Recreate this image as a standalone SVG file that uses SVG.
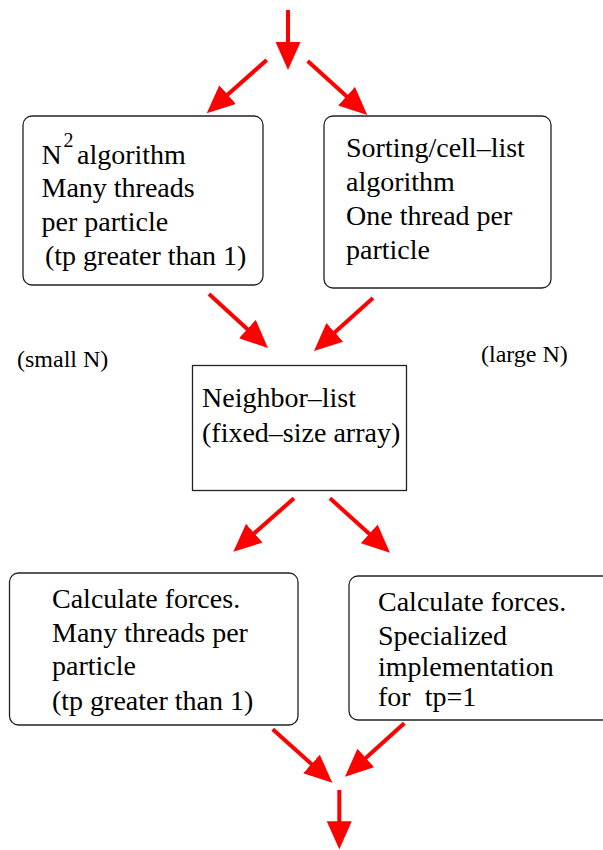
<svg xmlns="http://www.w3.org/2000/svg" width="603" height="850" viewBox="0 0 603 850">
<style>
.box{fill:#fff;stroke:#222;stroke-width:1.3}
.t{font-family:"Liberation Serif","Times New Roman",serif;font-size:28px;fill:#000;white-space:pre}
.s{font-family:"Liberation Serif","Times New Roman",serif;font-size:24px;fill:#000}
.sup{font-family:"Liberation Serif","Times New Roman",serif;font-size:20px;fill:#000}
.arr{stroke:#ff0000;stroke-width:4;fill:none;marker-end:url(#ah)}
</style>
<defs>
<marker id="ah" markerUnits="userSpaceOnUse" viewBox="0 0 28 25" markerWidth="28" markerHeight="25" refX="16" refY="12.5" orient="auto">
<path d="M0,0 L28,12.5 L0,25 Z" fill="#ff0000"/>
</marker>
</defs>
<rect width="603" height="850" fill="#fff"/>
<g id="connectors">
<path class="arr" d="M288,10 L288,58"/>
<path class="arr" d="M266.7,60 L215.7,105.3"/>
<path class="arr" d="M307.7,61 L358.4,106.9"/>
<path class="arr" d="M209,294 L259.1,339.9"/>
<path class="arr" d="M373,298 L322.9,343"/>
<path class="arr" d="M294,498.3 L242.3,543.8"/>
<path class="arr" d="M330,498.3 L381.1,544.6"/>
<path class="arr" d="M272.7,729.3 L323.4,774.7"/>
<path class="arr" d="M404.3,723.3 L353.9,768.7"/>
<path class="arr" d="M339.3,790 L339.3,837.3"/>
</g>
<g id="n2">
<rect class="box" x="23" y="116" width="240" height="169" rx="9"/>
<text class="t" x="41.5" y="164">N</text>
<text class="sup" x="63.5" y="147">2</text>
<text class="t" x="77" y="164">algorithm</text>
<text class="t" x="41.5" y="197">Many threads</text>
<text class="t" x="41.5" y="231">per particle</text>
<text class="t" x="45" y="265">(tp greater than 1)</text>
</g>
<g id="sorting">
<rect class="box" x="324" y="116" width="227" height="172" rx="9"/>
<text class="t" x="346" y="157">Sorting/cell–list</text>
<text class="t" x="346" y="191">algorithm</text>
<text class="t" x="346" y="225">One thread per</text>
<text class="t" x="346" y="259">particle</text>
</g>
<g id="smallN"><text class="s" x="17" y="367">(small N)</text></g>
<g id="largeN"><text class="s" x="481" y="362">(large N)</text></g>
<g id="neighbor">
<rect class="box" x="192.5" y="365.5" width="214" height="125"/>
<text class="t" x="202" y="407">Neighbor–list</text>
<text class="t" x="202" y="442">(fixed–size array)</text>
</g>
<g id="forcesMany">
<rect class="box" x="9.5" y="573" width="288.5" height="152" rx="9"/>
<text class="t" x="52" y="608">Calculate forces.</text>
<text class="t" x="52" y="642">Many threads per</text>
<text class="t" x="52" y="675">particle</text>
<text class="t" x="52" y="710">(tp greater than 1)</text>
</g>
<g id="forcesOne">
<rect class="box" x="349" y="576" width="262" height="144" rx="9"/>
<text class="t" x="378" y="611">Calculate forces.</text>
<text class="t" x="378" y="645">Specialized</text>
<text class="t" x="378" y="676">implementation</text>
<text class="t" x="378" y="706">for  tp=1</text>
</g>
</svg>
